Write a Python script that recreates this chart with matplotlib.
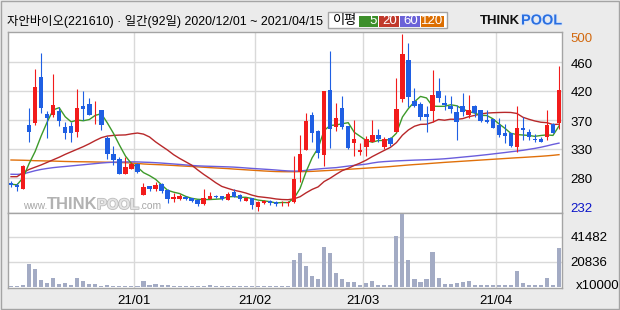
import numpy as np
import pandas as pd
import matplotlib.pyplot as plt
import matplotlib.patheffects as pe
from matplotlib.patches import Rectangle

# ===================== 데이터 =====================
TITLE = "자안바이오(221610) · 일간(92일) 2020/12/01 ~ 2021/04/15"

# 일봉 (92 거래일)
OPEN = [267.3, 265.2, 259.0, 358.2, 361.8, 433.0, 375.3, 374.3, 380.0, 355.1,
        356.1, 347.8, 387.8, 390.9, 377.9, 381.6, 338.5, 313.0, 305.2, 282.4,
        289.6, 296.9, 249.1, 263.1, 258.5, 266.8, 256.9, 242.9, 242.9, 246.5,
        244.5, 241.3, 235.1, 243.4, 248.1, 247.6, 241.3, 253.3, 249.1, 240.3,
        244.5, 229.9, 237.2, 239.8, 238.7, 236.1, 236.1, 237.7, 285.5, 319.8,
        373.8, 348.8, 312.0, 412.7, 355.6, 384.2, 356.6, 330.7, 315.6, 324.4,
        332.2, 342.1, 324.4, 338.5, 347.8, 398.7, 459.5, 395.1, 390.9, 375.3,
        380.5, 411.2, 392.5, 387.8, 378.5, 387.8, 373.8, 387.3, 381.6, 366.0,
        367.0, 358.2, 345.7, 345.2, 324.4, 353.0, 346.8, 336.4, 336.4, 340.0,
        359.8, 360.8]
HIGH = [270.9, 267.3, 295.9, 384.7, 444.9, 470.9, 380.0, 437.2, 386.8, 363.4,
        363.4, 414.3, 411.2, 399.8, 395.6, 381.6, 341.1, 326.0, 308.9, 308.9,
        301.1, 299.5, 267.3, 263.1, 269.9, 267.8, 258.0, 251.7, 250.7, 247.6,
        244.5, 242.4, 258.5, 254.3, 249.6, 248.1, 253.3, 258.0, 250.2, 246.5,
        244.9, 240.3, 241.3, 241.3, 240.3, 239.3, 240.3, 309.9, 342.6, 377.4,
        379.0, 350.4, 411.2, 473.5, 393.0, 403.4, 356.6, 366.0, 329.6, 341.1,
        366.0, 351.4, 340.0, 340.0, 430.9, 500.0, 485.5, 415.3, 394.6, 387.8,
        443.9, 430.9, 404.9, 403.4, 389.4, 408.6, 404.9, 389.4, 381.6, 381.6,
        367.0, 368.6, 359.8, 345.2, 387.8, 371.2, 351.4, 344.2, 339.0, 381.6,
        360.8, 450.7]
LOW = [262.1, 255.9, 259.0, 332.2, 358.2, 377.4, 337.4, 371.2, 357.2, 335.9,
       332.2, 340.0, 366.0, 373.3, 359.2, 349.9, 304.7, 296.4, 282.4, 282.4,
       289.1, 283.9, 249.1, 255.4, 255.9, 252.8, 237.2, 238.7, 241.3, 240.8,
       237.7, 232.5, 234.1, 242.4, 243.9, 241.3, 241.3, 245.5, 239.8, 239.3,
       227.3, 224.7, 234.6, 234.1, 232.5, 232.0, 232.0, 237.2, 269.9, 319.8,
       332.2, 306.3, 294.3, 321.9, 349.4, 351.4, 320.8, 310.4, 311.5, 309.9,
       331.7, 331.2, 320.8, 325.5, 347.8, 393.5, 386.8, 385.7, 366.0, 347.8,
       363.4, 394.6, 381.6, 377.4, 334.8, 372.2, 368.6, 370.1, 363.4, 361.8,
       353.0, 339.0, 329.6, 324.4, 316.6, 334.8, 334.8, 332.2, 331.7, 334.8,
       345.2, 351.4]
CLOSE = [264.2, 261.1, 294.3, 347.8, 416.9, 385.2, 369.6, 389.4, 364.9, 346.2,
         345.2, 384.2, 383.7, 374.3, 379.0, 357.7, 312.5, 303.7, 282.4, 293.3,
         298.0, 285.5, 261.1, 259.0, 264.7, 254.9, 242.9, 246.5, 248.1, 242.9,
         239.8, 235.1, 244.5, 248.1, 245.5, 242.9, 250.7, 246.5, 242.9, 244.9,
         233.5, 238.7, 240.3, 236.7, 234.6, 237.2, 237.7, 274.1, 313.0, 364.4,
         346.2, 314.1, 411.2, 351.4, 368.6, 355.6, 322.4, 336.4, 319.2, 336.4,
         342.6, 335.9, 336.4, 329.1, 383.1, 468.8, 402.3, 388.3, 371.2, 371.2,
         404.9, 400.8, 388.8, 383.1, 363.4, 379.0, 381.6, 376.9, 364.9, 362.9,
         354.0, 342.6, 341.6, 325.5, 353.0, 350.4, 339.0, 334.8, 332.2, 357.7,
         346.2, 412.7]

# 거래량 (x10000)
VOLUME = [600, 600, 1700, 19100, 14900, 5600, 3300, 7500, 2500, 3300,
          1700, 7500, 5000, 2500, 2500, 830, 1700, 830, 830, 830,
          830, 830, 5000, 1700, 2500, 1700, 1700, 830, 830, 830,
          830, 830, 830, 1700, 830, 830, 830, 830, 830, 830,
          830, 830, 830, 830, 830, 830, 830, 22200, 28200, 17200,
          8900, 6400, 33200, 28200, 11600, 6400, 3600, 4150, 1700, 3300,
          4700, 1700, 1700, 1700, 42300, 60300, 22200, 6400, 4150, 6400,
          28800, 7500, 2500, 2500, 3300, 4150, 4700, 1700, 1700, 1700,
          1700, 1700, 1700, 1700, 13000, 3300, 1700, 1700, 1700, 7200,
          1700, 32100]

# 이동평균 중 기간 이전 데이터가 필요한 부분
MA5_HEAD = [266.0, 265.0, 276.0, 298.0]
MA20_HEAD = [277.7, 277.7, 284.0, 289.0, 292.5, 296.0, 300.0, 304.0, 308.0, 312.5,
             316.5, 320.5, 324.5, 329.0, 334.0, 338.5, 341.0, 342.0, 342.5]
MA60 = [281.5, 281.3, 282.0, 284.5, 287.0, 289.0, 290.5, 291.8, 292.8, 293.6,
        294.5, 295.4, 296.3, 297.2, 298.1, 299.0, 299.7, 300.2, 300.5, 300.7,
        300.8, 300.7, 300.3, 300.0, 299.5, 298.9, 298.2, 297.5, 296.8, 296.0,
        295.2, 294.6, 294.2, 293.9, 293.6, 293.3, 293.0, 292.6, 292.0, 291.3,
        290.6, 290.0, 289.4, 288.8, 288.1, 287.3, 286.7, 286.4, 286.5, 287.6,
        288.8, 289.7, 290.5, 291.2, 291.8, 293.0, 294.2, 295.3, 296.2, 297.3,
        299.0, 300.4, 301.2, 301.8, 302.3, 302.7, 303.1, 303.5, 303.8, 304.1,
        304.5, 305.0, 305.6, 306.4, 307.3, 308.2, 309.1, 310.0, 311.0, 312.0,
        313.1, 314.2, 315.3, 316.5, 317.6, 318.8, 320.3, 321.8, 323.6, 325.7,
        328.0, 330.0]
MA120 = [303.7, 303.5, 303.3, 303.0, 302.6, 302.4, 302.2, 302.0, 301.7, 301.4,
         301.2, 301.0, 300.9, 300.8, 300.6, 300.4, 300.2, 300.0, 299.8, 299.5,
         299.0, 298.3, 297.5, 297.0, 296.6, 296.2, 295.7, 295.2, 294.6, 294.1,
         293.6, 293.0, 292.4, 291.8, 291.3, 290.8, 290.3, 289.6, 289.0, 288.4,
         287.8, 287.2, 286.6, 286.1, 285.7, 285.5, 285.4, 285.4, 285.5, 285.7,
         286.0, 286.5, 287.0, 287.5, 288.1, 288.7, 289.2, 289.8, 290.4, 291.0,
         291.6, 292.2, 292.8, 293.5, 294.3, 295.1, 295.9, 296.6, 297.2, 297.9,
         298.6, 299.3, 300.0, 300.6, 301.2, 301.8, 302.4, 303.0, 303.6, 304.2,
         304.8, 305.4, 306.0, 306.6, 307.2, 307.7, 308.3, 308.9, 309.5, 310.2,
         311.0, 312.0]

# 월 구분 (각 월 첫 거래일 인덱스) 및 라벨
MONTH_START = [21, 41, 59, 81]
DATE_LABELS = ['21/01', '21/02', '21/03', '21/04']

# 가격축 / 거래량축 라벨
PRICE_LABELS = ['500', '460', '420', '370', '330', '280', '232']
VOL_LABELS = ['41482', '20836']
VOL_TICKS = [41482, 20836]

# ===================== 스타일 =====================
W, H = 620, 310
BG = '#ebebeb'
FRAME = '#a4a4a4'
GRID = '#d9d9d9'
UP_COLOR = '#f21b1b'
DOWN_COLOR = '#1f5fe3'
VOL_COLOR = '#a3abc4'
MA_COLORS = {'5': '#3d9a2a', '20': '#b8282a', '60': '#6a5ddc', '120': '#e0700a'}
BOX_COLORS = {'5': '#3d8f2b', '20': '#c0392b', '60': '#6b62d8', '120': '#dc6e00'}
NUM_FONT = ['Liberation Sans', 'DejaVu Sans']
KR_FONT = ['Liberation Sans', 'Noto Sans CJK KR', 'DejaVu Sans']

plt.rcParams['font.family'] = KR_FONT

# 가격축 위치 (픽셀 -> 가격 선형 변환: y=34 -> 500, 1px = 1.558)
PX_PRICE = 1.558


def price_at(py):
    return 500 - (py - 34) * PX_PRICE


PRICE_GRID_Y = [62, 91, 120, 149, 178]
PRICE_LABEL_Y = [38, 63, 92, 121, 150, 179, 207]


def fx(px):
    return px / W


def fy(py):
    return 1 - py / H


fig = plt.figure(figsize=(W / 100, H / 100), dpi=100, facecolor=BG)
renderer = fig.canvas.get_renderer()


def fit_text(axis, px, py, s, width, **kw):
    """텍스트를 지정한 폭(px)에 맞게 글자 크기 조정, 오른쪽 끝 x 반환"""
    t = axis.text(px, py, s, **kw)
    w = t.get_window_extent(renderer).width
    t.set_fontsize(t.get_fontsize() * width / w)
    return px + width


# ===================== 그리기 =====================
ax = fig.add_axes([fx(8), fy(212.5), (562 - 8) / W, (212.5 - 32) / H])
axv = fig.add_axes([fx(8), fy(288), (562 - 8) / W, (288 - 212.5) / H])

x = np.arange(len(CLOSE))
o, hi, lo, c = (np.array(a) for a in (OPEN, HIGH, LOW, CLOSE))
up = c >= o
cols = np.where(up, UP_COLOR, DOWN_COLOR)

# 이동평균
close_s = pd.Series(CLOSE)
ma5 = close_s.rolling(5).mean().to_numpy()
ma5[:len(MA5_HEAD)] = MA5_HEAD
ma20 = close_s.rolling(20).mean().to_numpy()
ma20[:len(MA20_HEAD)] = MA20_HEAD

# 격자
for gy in PRICE_GRID_Y:
    ax.axhline(price_at(gy), color=GRID, lw=1.0, zorder=1)
for m in MONTH_START:
    ax.axvline(m - 0.5, color=GRID, lw=1.0, zorder=1)
    axv.axvline(m - 0.5, color=GRID, lw=1.0, zorder=1)
for v in VOL_TICKS:
    axv.axhline(v, color=GRID, lw=1.0, zorder=1)

# 이동평균선
ax.plot(x, MA120, color=MA_COLORS['120'], lw=1.0, zorder=2)
ax.plot(x, MA60, color=MA_COLORS['60'], lw=1.0, zorder=2)
ax.plot(x, ma20, color=MA_COLORS['20'], lw=1.0, zorder=2)
ax.plot(x, ma5, color=MA_COLORS['5'], lw=1.0, zorder=2)

# 캔들
ax.vlines(x, lo, hi, colors=cols, lw=0.8, zorder=3)
body = np.maximum(np.abs(c - o), 1.3)
ax.bar(x, body, bottom=np.minimum(o, c), width=0.74, color=cols, lw=0, zorder=4)

ax.set_xlim(-0.5, len(x) - 0.5)
ax.set_ylim(price_at(212.5), price_at(32))
ax.set_xticks([])
ax.yaxis.tick_right()
ax.set_yticks([price_at(py) for py in PRICE_LABEL_Y])
ax.set_yticklabels(PRICE_LABELS, family=NUM_FONT, fontsize=9.5)
ax.tick_params(axis='y', length=0, pad=6)
label_colors = ['#d2690f'] + ['black'] * 5 + ['#0a14c8']
for lbl, col in zip(ax.get_yticklabels(), label_colors):
    lbl.set_color(col)

# 거래량
axv.bar(x, VOLUME, width=0.68, color=VOL_COLOR, lw=0, zorder=3)
axv.set_xlim(-0.5, len(x) - 0.5)
axv.set_ylim(-1080, 61600)
axv.yaxis.tick_right()
axv.set_yticks(VOL_TICKS)
axv.set_yticklabels(VOL_LABELS, family=NUM_FONT, fontsize=9.5)
axv.set_xticks([m - 0.5 for m in MONTH_START])
axv.set_xticklabels(DATE_LABELS, family=NUM_FONT, fontsize=9.5)
axv.tick_params(axis='both', length=0)
axv.tick_params(axis='y', pad=6)
axv.tick_params(axis='x', pad=5)

for a in (ax, axv):
    a.set_facecolor('white')
    for s in a.spines.values():
        s.set_color(FRAME)
        s.set_linewidth(1.0)

# 상단 제목 / 범례 / 로고 (픽셀 좌표 오버레이)
ov = fig.add_axes([0, 0, 1, 1], zorder=10)
ov.set_xlim(0, W)
ov.set_ylim(H, 0)
ov.axis('off')
ov.patch.set_alpha(0)

ov.add_patch(Rectangle((0.5, 0.5), W - 1.5, H - 1.5, fill=False, ec=FRAME, lw=1.0))
fit_text(ov, 7, 21.5, TITLE, 316, fontsize=9.5, va='center', ha='left', color='black')

ov.add_patch(Rectangle((327.5, 11.5), 119, 16.5, fc='white', ec=FRAME, lw=1.0))
ov.text(333, 20.5, '이평', fontsize=9.5, va='center', ha='left', family=['Noto Sans CJK KR'])
boxes = [('5', 358.5, 377.5), ('20', 378.5, 398.5), ('60', 399.5, 419.5), ('120', 420.5, 444)]
for name, x0, x1 in boxes:
    ov.add_patch(Rectangle((x0, 15.5), x1 - x0, 11.5, fc=BOX_COLORS[name], ec='none'))
    ov.text(x1 - 1, 21.5, name, fontsize=9.5, color='white', va='center', ha='right',
            family=NUM_FONT)

# 로고
nx = fit_text(ov, 480, 20.5, 'THINK', 40, fontsize=11, fontweight='bold', color='#111111',
              va='center', ha='left', family=NUM_FONT)
fit_text(ov, nx + 1, 20.5, 'POOL', 41, fontsize=11, fontweight='bold', color='#2a6fe0',
         va='center', ha='left', family=NUM_FONT,
         path_effects=[pe.withStroke(linewidth=1.5, foreground='#dbe6f8')])

# 워터마크 (가격 차트 왼쪽 아래)
wm = dict(va='baseline', ha='left', family=['Liberation Sans', 'DejaVu Sans'], zorder=1.5)
nx = fit_text(ov, 23, 209, 'www.', 24, fontsize=9, color='#a6a6a6', **wm)
nx = fit_text(ov, nx, 209, 'THINK', 50, fontsize=12, fontweight='bold', color='#b2b2b2', **wm)
nx = fit_text(ov, nx, 209, 'POOL', 42, fontsize=12, fontweight='bold', color='#e4e4e4',
              path_effects=[pe.withStroke(linewidth=1.2, foreground='#bdbdbd')], **wm)
fit_text(ov, nx, 209, '.com', 22, fontsize=9, color='#a6a6a6', **wm)

ov.text(576, 286, 'x10000', fontsize=9.5, va='center', ha='left', family=NUM_FONT)

fig.savefig('out.png', dpi=100, facecolor=fig.get_facecolor())
